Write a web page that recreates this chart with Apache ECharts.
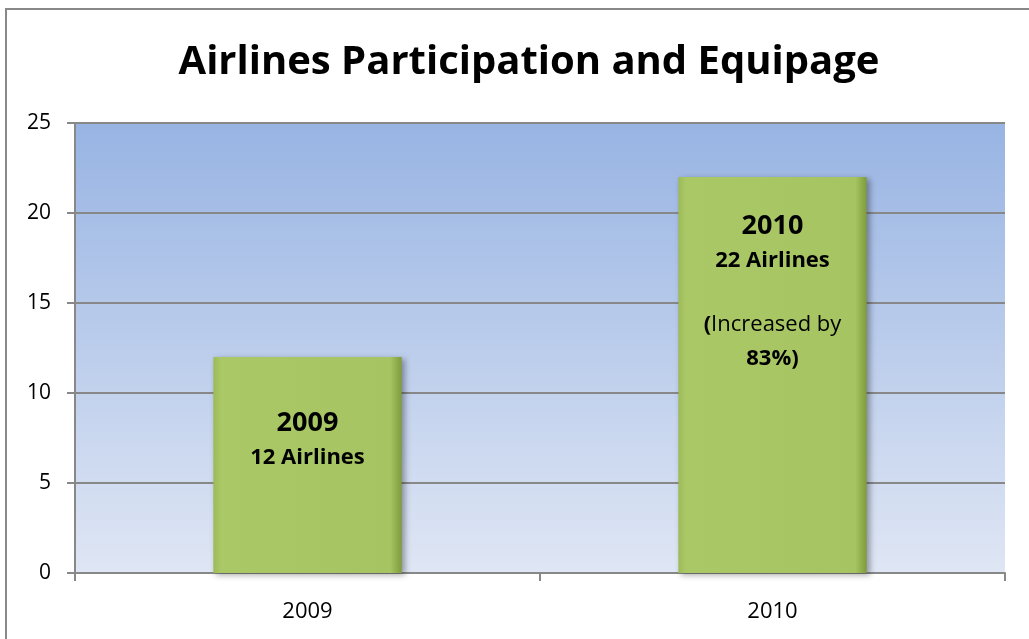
<!DOCTYPE html>
<html>
<head>
<meta charset="utf-8">
<script src="https://cdn.jsdelivr.net/npm/echarts@6/dist/echarts.min.js"></script>
<style>
html,body{margin:0;padding:0;background:#fff;}
#c{width:1029px;height:639px;}
</style>
</head>
<body>
<div id="c"></div>
<script>
var titleText = 'Airlines Participation and Equipage';
var categories = ['2009', '2010'];
var airlines = [12, 22];
var yTicks = [0, 5, 10, 15, 20, 25];
var barLabels = [
  '{y|2009}\n{n|12 Airlines}',
  '{y|2010}\n{n|22 Airlines}\n{gap| }\n{p|(}{r|Increased by}\n{n|83%)}'
];
var labelDistances = [48, 31];

var FONT = '"Open Sans", "Noto Sans", sans-serif';
var chart = echarts.init(document.getElementById('c'));
var richStyle = {
  y: {fontFamily: FONT, fontWeight: 'bold', fontSize: 27, lineHeight: 36, color: '#000'},
  n: {fontFamily: FONT, fontWeight: 'bold', fontSize: 22, lineHeight: 34, color: '#000'},
  p: {fontFamily: FONT, fontWeight: 'bold', fontSize: 22, lineHeight: 34, color: '#000'},
  r: {fontFamily: FONT, fontWeight: 'normal', fontSize: 22, lineHeight: 34, color: '#000'},
  gap: {fontSize: 10, lineHeight: 30}
};
var barColor = new echarts.graphic.LinearGradient(0, 0, 1, 0, [
  {offset: 0, color: '#9dba58'},
  {offset: 0.04, color: '#aac865'},
  {offset: 0.94, color: '#a6c461'},
  {offset: 1, color: '#7f9b3d'}
]);
var seriesData = airlines.map(function (v, i) {
  return {
    value: v,
    label: {
      show: true,
      position: 'insideTop',
      distance: labelDistances[i],
      formatter: barLabels[i],
      rich: richStyle
    }
  };
});
chart.setOption({
  animation: false,
  backgroundColor: '#ffffff',
  title: {
    text: titleText,
    left: 524,
    textAlign: 'center',
    top: 38,
    textStyle: {fontFamily: FONT, fontWeight: 'bold', fontSize: 40, color: '#000'}
  },
  graphic: [{
    type: 'rect',
    shape: {x: 6, y: 9, width: 1100, height: 700},
    style: {fill: 'none', stroke: '#898989', lineWidth: 2},
    silent: true
  }],
  grid: {
    left: 75, right: 24, top: 123, bottom: 66,
    show: true,
    borderWidth: 0,
    backgroundColor: new echarts.graphic.LinearGradient(0, 0, 0, 1, [
      {offset: 0, color: '#98b4e3'},
      {offset: 1, color: '#dfe6f4'}
    ])
  },
  xAxis: {
    type: 'category',
    data: categories,
    boundaryGap: true,
    axisLine: {show: true, lineStyle: {color: '#888888', width: 2}},
    axisTick: {show: true, length: 8, alignWithLabel: false, lineStyle: {color: '#888888', width: 2}},
    axisLabel: {fontFamily: FONT, fontSize: 22, color: '#000', margin: 28},
    splitLine: {show: false}
  },
  yAxis: {
    type: 'value',
    min: yTicks[0],
    max: yTicks[yTicks.length - 1],
    interval: 5,
    axisLine: {show: true, lineStyle: {color: '#888888', width: 2}},
    axisTick: {show: true, length: 8, lineStyle: {color: '#888888', width: 2}},
    axisLabel: {fontFamily: FONT, fontSize: 21, color: '#000', margin: 24},
    splitLine: {show: true, lineStyle: {color: '#888888', width: 2}}
  },
  series: [{
    type: 'bar',
    data: seriesData,
    barWidth: '40.5%',
    itemStyle: {
      color: barColor,
      shadowColor: 'rgba(0,0,0,0.35)',
      shadowBlur: 6,
      shadowOffsetX: 3,
      shadowOffsetY: 2
    }
  }]
});
</script>
</body>
</html>
